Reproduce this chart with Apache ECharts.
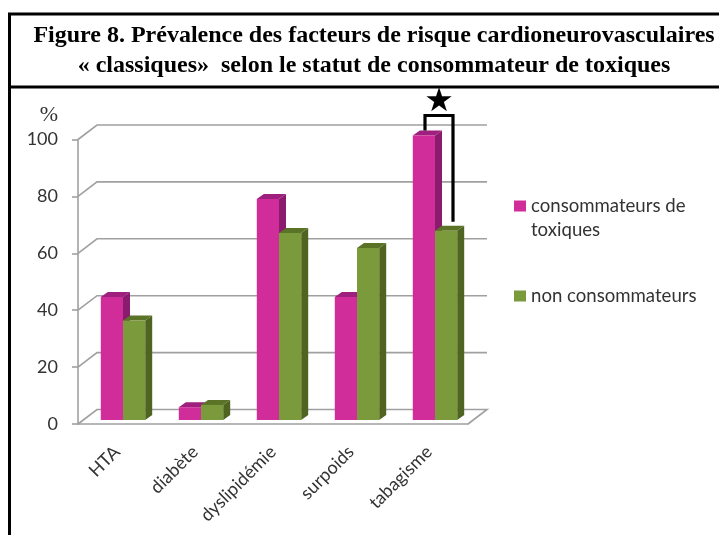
<!DOCTYPE html>
<html>
<head>
    <meta charset="UTF-8">
    <title>Figure 8</title>
    <script src="https://cdn.jsdelivr.net/npm/echarts@6/dist/echarts.min.js"></script>
    <style>
        html, body { margin: 0; padding: 0; background: #fff; }
        #main { width: 719px; height: 535px; }
    </style>
</head>
<body>
<div id="main"></div>
<script>
    var categories = ['HTA', 'diabète', 'dyslipidémie', 'surpoids', 'tabagisme'];
    var consommateurs = [43.2, 4.5, 77.7, 43.2, 100];
    var nonConsommateurs = [35, 5.3, 65.7, 60.5, 66.5];
    var yTicks = [0, 20, 40, 60, 80, 100];
    var nameConso = 'consommateurs de toxiques';
    var nameNon = 'non consommateurs';

    var myChart = echarts.init(document.getElementById('main'));

    // faux 3D : profondeur des barres et du fond
    var barW = 22.2, barDx = 6, barDy = 4, sideW = 7, topH = 5;
    var wallDx = 19, wallDy = 14.5;
    var gray = '#a0a0a0';

    function make3dBar(colors, shift) {
        return function (params, api) {
            var p = api.coord([api.value(0), api.value(1)]);
            var base = api.coord([api.value(0), 0]);
            var x0 = p[0] + barDx + shift;
            var x1 = x0 + barW;
            var yt = p[1] - barDy;
            var yb = base[1] - barDy;
            return {
                type: 'group',
                children: [
                    {type: 'polygon', shape: {points: [[x1, yt], [x1 + sideW, yt - topH], [x1 + sideW, yb - topH], [x1, yb]]}, style: {fill: colors[2]}},
                    {type: 'polygon', shape: {points: [[x0, yt], [x0 + sideW, yt - topH], [x1 + sideW, yt - topH], [x1, yt]]}, style: {fill: colors[1]}},
                    {type: 'rect', shape: {x: x0, y: yt, width: barW, height: yb - yt}, style: {fill: colors[0]}}
                ]
            };
        };
    }

    function renderWall(params, api) {
        var y = api.coord([0, api.value(1)])[1];
        var cs = params.coordSys;
        var pts = [[cs.x, y], [cs.x + wallDx, y - wallDy], [cs.x + cs.width + wallDx, y - wallDy]];
        if (api.value(1) === 0) {
            pts.push([cs.x + cs.width, y]);
        }
        return {type: 'polyline', shape: {points: pts}, style: {stroke: gray, lineWidth: 1.6, fill: null}};
    }

    // crochet et étoile de significativité sur tabagisme
    function renderBracket(params, api) {
        var top = api.coord([api.value(0), consommateurs[4]]);
        var low = api.coord([api.value(0), nonConsommateurs[4]]);
        var xl = top[0] - 4, xr = top[0] + 24, yt = top[1] - 24;
        return {
            type: 'group',
            children: [
                {type: 'polyline', shape: {points: [[xl, top[1] - 9], [xl, yt], [xr, yt], [xr, low[1] - 13]]}, style: {stroke: '#000', lineWidth: 3.2, fill: null}},
                {type: 'text', style: {x: top[0] + 10, y: yt - 13, text: '★', fill: '#000', font: '33px "DejaVu Sans"', align: 'center', verticalAlign: 'middle'}}
            ]
        };
    }

    myChart.setOption({
        animation: false,
        backgroundColor: '#fff',
        title: {
            text: 'Figure 8. Prévalence des facteurs de risque cardioneurovasculaires\n« classiques»  selon le statut de consommateur de toxiques',
            left: 369,
            top: 16,
            textAlign: 'center',
            textStyle: {fontFamily: 'Liberation Serif', fontWeight: 'bold', fontSize: 24, lineHeight: 30, color: '#000'}
        },
        legend: {
            orient: 'vertical',
            left: 509,
            top: 165,
            itemWidth: 12,
            itemHeight: 11,
            itemGap: 42,
            selectedMode: false,
            icon: 'rect',
            data: [nameConso, nameNon],
            formatter: function (name) {
                return name === nameConso ? ' \nconsommateurs de\ntoxiques' : name;
            },
            textStyle: {fontFamily: 'Lato', fontSize: 18.6, lineHeight: 24, color: '#333'}
        },
        grid: {left: 78, top: 139.5, width: 390, height: 284.5},
        xAxis: {
            type: 'category',
            data: categories,
            axisLine: {lineStyle: {color: gray, width: 1.6}},
            axisTick: {length: 6, lineStyle: {color: gray, width: 1.6}},
            axisLabel: {rotate: 45, margin: 25, interval: 0, fontFamily: 'Lato', fontSize: 18, color: '#333'},
            splitLine: {show: false}
        },
        yAxis: {
            type: 'value',
            min: 0,
            max: 100,
            interval: 20,
            name: '%',
            nameLocation: 'end',
            nameGap: 13,
            nameTextStyle: {fontFamily: 'Liberation Serif', fontSize: 22, color: '#333', align: 'right', padding: [0, 20, 0, 0]},
            axisLine: {show: true, lineStyle: {color: gray, width: 1.6}},
            axisTick: {show: true, length: 6, lineStyle: {color: gray, width: 1.6}},
            axisLabel: {margin: 20, fontFamily: 'Lato', fontSize: 18, color: '#333'},
            splitLine: {show: false}
        },
        series: [
            {
                type: 'custom',
                silent: true,
                renderItem: renderWall,
                data: yTicks.map(function (v) { return [0, v]; }),
                z: 1
            },
            {
                name: nameConso,
                type: 'custom',
                renderItem: make3dBar(['#d02c9a', '#9e1f7e', '#8a1b6e'], -barW),
                itemStyle: {color: '#d02c9a'},
                data: consommateurs.map(function (v, i) { return [i, v]; }),
                z: 2
            },
            {
                name: nameNon,
                type: 'custom',
                renderItem: make3dBar(['#7b9a3c', '#5b7326', '#4f6420'], 0),
                itemStyle: {color: '#7b9a3c'},
                data: nonConsommateurs.map(function (v, i) { return [i, v]; }),
                z: 3
            },
            {
                type: 'custom',
                silent: true,
                renderItem: renderBracket,
                data: [[4, consommateurs[4]]],
                z: 4
            }
        ],
        graphic: [
            {type: 'polyline', shape: {points: [[9.5, 535], [9.5, 14], [719, 14]]}, style: {stroke: '#000', lineWidth: 3, fill: null}},
            {type: 'line', shape: {x1: 9, y1: 87, x2: 719, y2: 87}, style: {stroke: '#000', lineWidth: 3}}
        ]
    });
</script>
</body>
</html>
